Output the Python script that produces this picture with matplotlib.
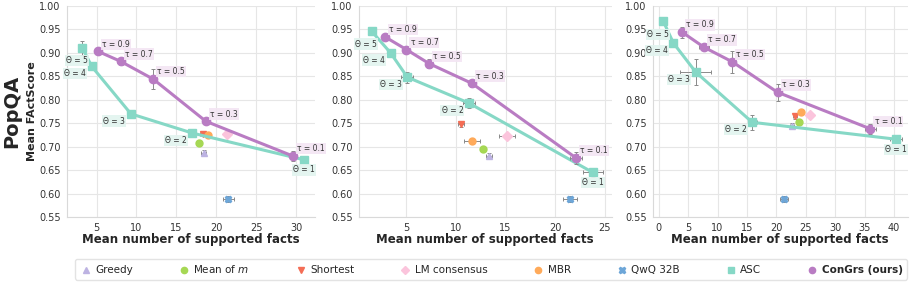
import matplotlib.pyplot as plt
import seaborn as sns
from matplotlib.lines import Line2D

sns.set_style("whitegrid")
plt.rcParams['font.family'] = ['DejaVu Sans']

# three panels, x = mean number of supported facts, y = mean FActScore
asc_theta = [5, 4, 3, 2, 1]
congrs_tau = [0.9, 0.7, 0.5, 0.3, 0.1]

asc_x = [[3.2, 4.4, 9.3, 17.0, 31.0],
         [1.5, 3.4, 5.1, 11.3, 23.8],
         [0.8, 2.5, 6.3, 15.9, 40.3]]
asc_y = [[0.911, 0.871, 0.770, 0.729, 0.672],
         [0.946, 0.900, 0.848, 0.793, 0.645],
         [0.967, 0.921, 0.859, 0.752, 0.716]]
asc_xerr = [[0.3, 0.2, 0.3, 0.4, 0.3],
            [0.2, 0.2, 0.6, 0.6, 1.0],
            [0.3, 0.3, 2.6, 0.8, 1.0]]
asc_yerr = [[0.015, 0.004, 0.008, 0.005, 0.006],
            [0.004, 0.004, 0.012, 0.010, 0.010],
            [0.004, 0.004, 0.028, 0.016, 0.005]]

congrs_x = [[5.2, 8.0, 12.1, 18.7, 29.6],
            [2.85, 5.0, 7.3, 11.6, 22.1],
            [4.0, 7.7, 12.5, 20.2, 36.0]]
congrs_y = [[0.903, 0.882, 0.844, 0.754, 0.680],
            [0.934, 0.907, 0.877, 0.835, 0.676],
            [0.944, 0.912, 0.881, 0.816, 0.738]]
congrs_xerr = [[0.3, 0.4, 0.4, 0.3, 0.4],
               [0.3, 0.3, 0.3, 0.4, 0.6],
               [0.3, 0.8, 0.4, 0.4, 1.0]]
congrs_yerr = [[0.004, 0.008, 0.022, 0.006, 0.010],
               [0.004, 0.004, 0.010, 0.008, 0.012],
               [0.012, 0.006, 0.024, 0.018, 0.010]]

greedy_x = [18.4, 13.3, 22.7]
greedy_y = [0.686, 0.680, 0.744]
mean_x = [17.8, 12.7, 23.9]
mean_y = [0.708, 0.695, 0.752]
shortest_x = [18.3, 10.55, 23.2]
shortest_y = [0.728, 0.749, 0.765]
lm_x = [21.3, 15.1, 25.8]
lm_y = [0.726, 0.722, 0.767]
mbr_x = [19.0, 11.6, 24.2]
mbr_y = [0.724, 0.712, 0.773]
qwq_x = [21.5, 21.5, 21.3]
qwq_y = [0.588, 0.588, 0.588]

xlims = [(1.3, 32.4), (0.2, 25.7), (-1.0, 42.3)]
xticks = [[5, 10, 15, 20, 25, 30], [5, 10, 15, 20, 25], [0, 5, 10, 15, 20, 25, 30, 35, 40]]

c_greedy = "#bdb3e2"
c_mean = "#a6d854"
c_short = "#f46d55"
c_lm = "#fbc4dc"
c_mbr = "#ffaa5a"
c_qwq = "#6da6d8"
c_asc = "#86d8c6"
c_con = "#b97cc3"

fig = plt.figure(figsize=(9.13, 2.83), dpi=100)
lefts = [0.0734, 0.393, 0.715]
widths = [0.272, 0.277, 0.279]

ebkw = dict(ecolor="#8a8a8a", elinewidth=0.7, capsize=1.5, capthick=0.7)

for i in range(3):
    ax = fig.add_axes([lefts[i], 0.233, widths[i], 0.746])
    baselines = [
        ("Greedy", greedy_x, greedy_y, "^", c_greedy),
        ("Mean of $m$", mean_x, mean_y, "o", c_mean),
        ("Shortest", shortest_x, shortest_y, "v", c_short),
        ("LM consensus", lm_x, lm_y, "D", c_lm),
        ("MBR", mbr_x, mbr_y, "o", c_mbr),
        ("QwQ 32B", qwq_x, qwq_y, "X", c_qwq),
    ]
    for name, bx, by, m, c in baselines:
        xe = 0.7 if name == "QwQ 32B" else 0.3
        if i == 1 and name in ("MBR", "LM consensus"):
            xe = 0.8
        ax.errorbar(bx[i], by[i], xerr=xe, yerr=0.006, fmt=m, color=c, ms=5,
                    mec=c, zorder=3, **ebkw)
    ax.errorbar(asc_x[i], asc_y[i], xerr=asc_xerr[i], yerr=asc_yerr[i], fmt="s-",
                color=c_asc, lw=2.2, ms=6, zorder=4, **ebkw)
    ax.errorbar(congrs_x[i], congrs_y[i], xerr=congrs_xerr[i], yerr=congrs_yerr[i],
                fmt="o-", color=c_con, lw=2.2, ms=6, zorder=5, **ebkw)

    for t, x, y in zip(congrs_tau, congrs_x[i], congrs_y[i]):
        ax.annotate(f"τ = {t}", (x, y), xytext=(3, 2), textcoords="offset points",
                    ha="left", va="bottom", fontsize=5.5, color="#333333", zorder=6,
                    bbox=dict(boxstyle="square,pad=0.15", fc="#f3e5f3", ec="none", alpha=0.9))
    for th, x, y in zip(asc_theta, asc_x[i], asc_y[i]):
        if th == 1:
            off, ha = (0, -4), "center"
        elif th == 5:
            off, ha = (4, -6), "right"
        else:
            off, ha = (-4, -2), "right"
        ax.annotate(f"Θ = {th}", (x, y), xytext=off, textcoords="offset points",
                    ha=ha, va="top", fontsize=5.5, color="#333333", zorder=6,
                    bbox=dict(boxstyle="square,pad=0.15", fc="#e2f4ef", ec="none", alpha=0.9))

    ax.set_xlim(*xlims[i])
    ax.set_ylim(0.55, 1.0)
    ax.set_xticks(xticks[i])
    ax.set_yticks([0.55, 0.60, 0.65, 0.70, 0.75, 0.80, 0.85, 0.90, 0.95, 1.00])
    ax.tick_params(labelsize=7, pad=1, colors="#333333")
    ax.grid(color="#e6e6e6", lw=0.8)
    for sp in ["top", "right"]:
        ax.spines[sp].set_visible(False)
    for sp in ["left", "bottom"]:
        ax.spines[sp].set_color("#d9d9d9")
    ax.set_xlabel("Mean number of supported facts", fontsize=8.5, fontweight="bold", labelpad=0)

fig.text(0.013, 0.608, "PopQA", rotation=90, fontsize=14, fontweight="bold",
         ha="center", va="center")
fig.text(0.035, 0.608, "Mean FActScore", rotation=90, fontsize=8, fontweight="bold",
         ha="center", va="center")

# legend with markers only
leg_items = [("^", c_greedy), ("o", c_mean), ("v", c_short), ("D", c_lm),
             ("o", c_mbr), ("X", c_qwq), ("s", c_asc), ("o", c_con)]
leg_names = ["Greedy", "Mean of $m$", "Shortest", "LM consensus", "MBR", "QwQ 32B",
             "ASC", "ConGrs (ours)"]
hs = [Line2D([], [], ls="none", marker=m, color=c, ms=4.5) for m, c in leg_items]
leg = fig.legend(hs, leg_names, loc="center", bbox_to_anchor=(0.538, 0.048), ncol=8,
                 fontsize=7.5, frameon=True, handletextpad=0.3, columnspacing=4.3,
                 borderpad=0.4, handlelength=1.2)
leg.get_frame().set_edgecolor("#dddddd")
leg.get_texts()[-1].set_fontweight("bold")

fig.savefig("out.png", dpi=100)
